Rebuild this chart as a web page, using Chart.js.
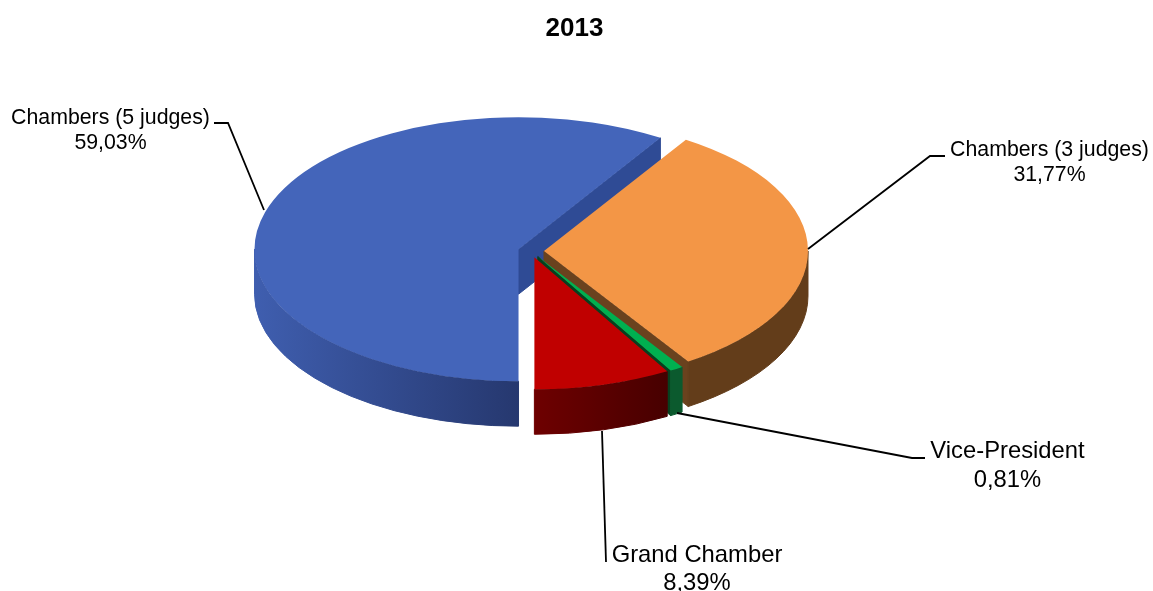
<!DOCTYPE html>
<html>
<head>
<meta charset="utf-8">
<script src="https://cdn.jsdelivr.net/npm/chart.js@4"></script>
<style>
    html, body { margin: 0; padding: 0; background: #fff; }
    canvas { display: block; }
</style>
</head>
<body>
<canvas id="chart" width="1153" height="591"></canvas>
<script>
const categories = ["Chambers (5 judges)", "Chambers (3 judges)", "Vice-President", "Grand Chamber"];
const shares = [59.03, 31.77, 0.81, 8.39];

const topColors = ["#4465BA", "#F39646", "#00B050", "#C00000"];
const wallColors = [["#3F5EAF", "#26386F"], ["#633D1A", "#633D1A"], ["#0B5A2E", "#0B5A2E"], ["#6E0000", "#470000"]];
const faceColors = ["#2F4B95", "#6A421E", "#07401F", "#470000"];

// Fake 3D: the flat pie is squashed and a wall is painted below it
const SQUASH = 0.5;
const DEPTH = 45;
const CENTER_X = 531;
const CENTER_Y = 251;
const RADIUS = 264;
const EXPLODE = 13;

// Text anchors and leader lines, in pixels
const labelPos = [
    { x: 110.5, y1: 124, y2: 149, size: 21.3 },
    { x: 1049.5, y1: 156, y2: 181, size: 21.3 },
    { x: 1007.5, y1: 458, y2: 487, size: 23.8 },
    { x: 697, y1: 562, y2: 590, size: 23.8 }
];
const leaders = [
    [[264, 210], [228, 123], [214, 123]],
    [[808, 249], [930, 156], [945, 156]],
    [[677, 413], [912, 458], [925, 458]],
    [[602, 431], [606, 562]]
];

function sliceGeometry(arc) {
    const props = arc.getProps(["x", "y", "startAngle", "endAngle", "outerRadius"], true);
    const mid = (props.startAngle + props.endAngle) / 2;
    return {
        // flat pixels the arc has to move before it gets squashed
        dx: Math.cos(mid) * EXPLODE,
        dy: Math.sin(mid) * EXPLODE,
        arcX: props.x,
        arcY: props.y,
        cx: CENTER_X + Math.cos(mid) * EXPLODE,
        cy: CENTER_Y + Math.sin(mid) * EXPLODE * SQUASH,
        r: props.outerRadius,
        start: props.startAngle,
        end: props.endAngle
    };
}

function drawWall(ctx, g, colors) {
    // Only the part of the rim that faces the viewer, angles 0..PI
    const TAU = Math.PI * 2;
    for (let k = -1; k <= 1; k++) {
        const a0 = Math.max(g.start, k * TAU);
        const a1 = Math.min(g.end, k * TAU + Math.PI);
        if (a1 <= a0) continue;
        // Shade runs left to right across this piece of rim
        const grad = ctx.createLinearGradient(g.cx + Math.cos(a1) * g.r, 0, g.cx + Math.cos(a0) * g.r, 0);
        grad.addColorStop(0, colors[0]);
        grad.addColorStop(1, colors[1]);
        ctx.beginPath();
        ctx.ellipse(g.cx, g.cy, g.r, g.r * SQUASH, 0, a0, a1);
        ctx.ellipse(g.cx, g.cy + DEPTH, g.r, g.r * SQUASH, 0, a1, a0, true);
        ctx.closePath();
        ctx.fillStyle = grad;
        ctx.strokeStyle = grad;
        ctx.fill();
        ctx.stroke();
    }
}

function drawFace(ctx, g, color) {
    // Cut side at the end of the slice, when it looks down at the viewer
    if (Math.cos(g.end) <= 0.001) return;
    const ox = g.cx + Math.cos(g.end) * g.r;
    const oy = g.cy + Math.sin(g.end) * g.r * SQUASH;
    ctx.beginPath();
    ctx.moveTo(g.cx, g.cy);
    ctx.lineTo(ox, oy);
    ctx.lineTo(ox, oy + DEPTH);
    ctx.lineTo(g.cx, g.cy + DEPTH);
    ctx.closePath();
    ctx.fillStyle = color;
    ctx.strokeStyle = color;
    ctx.fill();
    ctx.stroke();
}

const pie3d = {
    id: "pie3d",
    beforeDatasetDraw(chart) {
        const ctx = chart.ctx;
        const arcs = chart.getDatasetMeta(0).data;
        ctx.save();
        ctx.lineWidth = 1;
        arcs.forEach((arc, i) => {
            const g = sliceGeometry(arc);
            drawFace(ctx, g, faceColors[i]);
            drawWall(ctx, g, wallColors[i]);
        });
        // Library arcs, each moved out and squashed
        arcs.forEach(arc => {
            const g = sliceGeometry(arc);
            ctx.save();
            ctx.translate(CENTER_X, CENTER_Y);
            ctx.scale(1, SQUASH);
            ctx.translate(g.dx - g.arcX, g.dy - g.arcY);
            arc.draw(ctx);
            ctx.restore();
        });
        ctx.restore();
        return false;
    },
    afterDraw(chart) {
        const ctx = chart.ctx;
        ctx.save();
        ctx.strokeStyle = "#000";
        ctx.lineWidth = 1.8;
        leaders.forEach(line => {
            ctx.beginPath();
            line.forEach((p, i) => i ? ctx.lineTo(p[0], p[1]) : ctx.moveTo(p[0], p[1]));
            ctx.stroke();
        });
        ctx.fillStyle = "#000";
        ctx.textAlign = "center";
        ctx.textBaseline = "alphabetic";
        categories.forEach((name, i) => {
            const pos = labelPos[i];
            ctx.font = pos.size + "px 'Liberation Sans', Arial, sans-serif";
            ctx.fillText(name, pos.x, pos.y1);
            ctx.fillText(shares[i].toFixed(2).replace(".", ",") + "%", pos.x, pos.y2);
        });
        ctx.restore();
    }
};

new Chart(document.getElementById("chart"), {
    type: "pie",
    data: {
        labels: categories,
        datasets: [{
            data: shares,
            backgroundColor: topColors,
            borderWidth: 0,
            radius: RADIUS
        }]
    },
    options: {
        responsive: false,
        animation: false,
        rotation: 180,
        layout: { padding: { right: 4 } },
        plugins: {
            legend: { display: false },
            tooltip: { enabled: false },
            title: {
                display: true,
                text: "2013",
                color: "#000",
                font: { family: "'Liberation Sans', Arial, sans-serif", size: 26, weight: "bold" },
                padding: { top: 13, bottom: 0 }
            }
        }
    },
    plugins: [pie3d]
});
</script>
</body>
</html>
